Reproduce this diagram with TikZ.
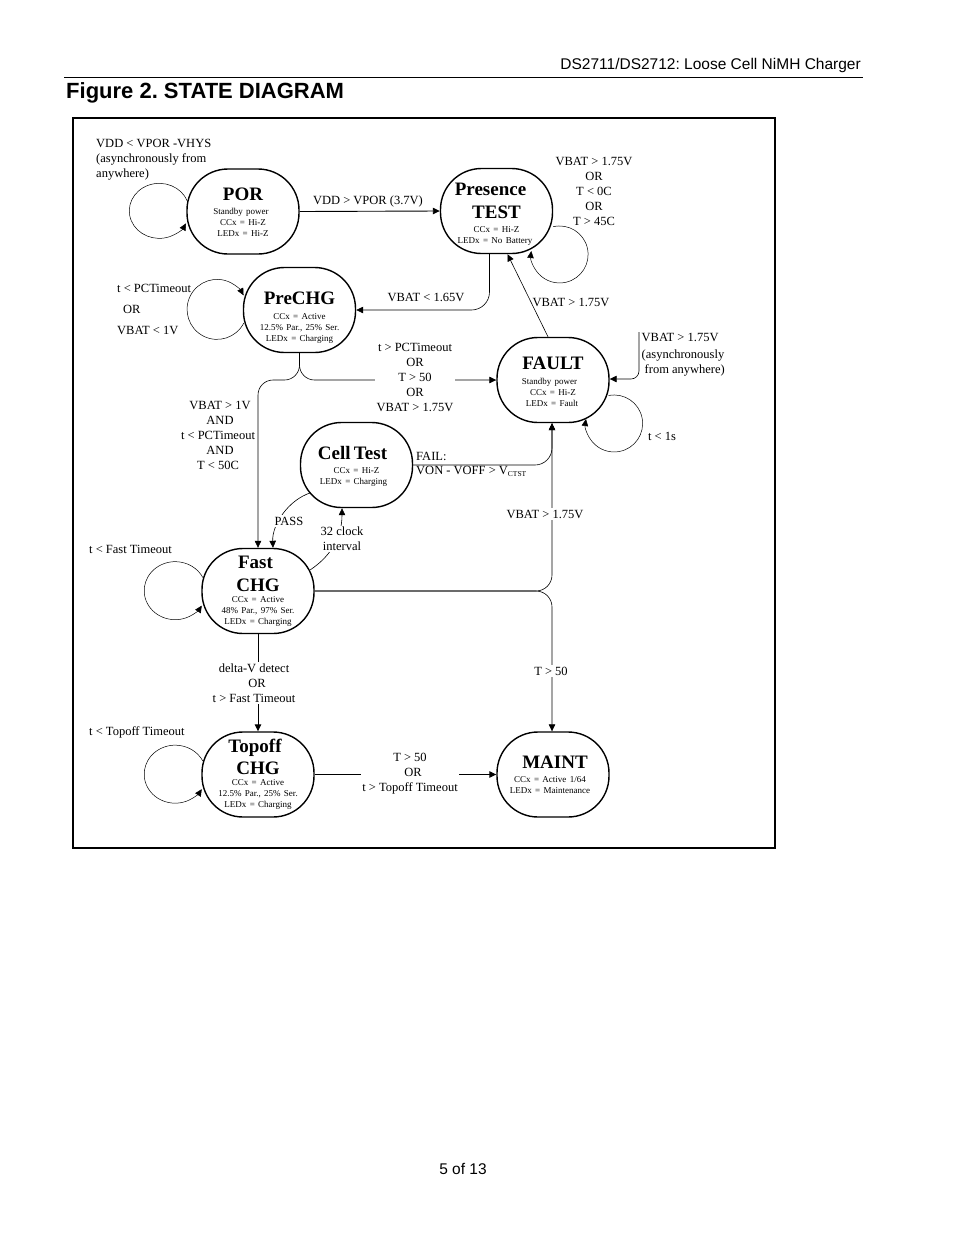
\documentclass[tikz,border=0pt]{standalone}
\usepackage{fontspec}
\setmainfont{Liberation Serif}
\newfontfamily\headfont{Liberation Sans}
\usetikzlibrary{arrows.meta}
\newcommand{\statetext}[4][3.5pt]{{\fontsize{19}{22.5}\selectfont\bfseries\rule{0pt}{\dimexpr 13pt+#2\relax}#3\par}\vspace{#1}{\fontsize{9}{11}\selectfont #4\par}}

\begin{document}
\frenchspacing
\begin{tikzpicture}[x=1pt,y=-1pt,
	>={Triangle[length=7pt,width=6.5pt]},
	statebox/.style={draw,line width=1.4pt,rounded corners=41pt,minimum width=112pt,minimum height=85pt,inner sep=0pt,align=center,text width=110pt},
	link/.style={line width=0.6pt,->},
	mainlink/.style={line width=0.9pt,->},
	selfloop/.style={line width=0.5pt,->},
	cond/.style={font=\fontsize{12.5}{15}\selectfont,align=center,inner sep=1.5pt},
	gap/.style={cond,fill=white}]
\useasboundingbox (0,0) rectangle (954,1235);

% page furniture
\node[anchor=east,inner sep=0pt,font=\headfont\fontsize{15.5}{18}\selectfont] (header) at (861,65) {DS2711/DS2712: Loose Cell NiMH Charger};
\coordinate (ruleleft) at (64,77);
\coordinate (ruleright) at (863,77);
\draw[line width=1pt] (ruleleft)--(ruleright);
\node[anchor=west,inner sep=0pt,font=\headfont\bfseries\fontsize{22}{26}\selectfont] (figtitle) at (66,92.5) {Figure 2. STATE DIAGRAM};
\node[inner sep=0pt,font=\headfont\fontsize{15.5}{18}\selectfont] (pagenum) at (463,1169) {5 of 13};
\draw[line width=1.5pt] (73,118) rectangle (775,848);

% states
\node[statebox] (por) at (243,211.5) {\statetext{1pt}{POR}{\hspace*{-4pt}Standby power\\CCx = Hi-Z\\LEDx = Hi-Z}};
\node[statebox] (presence) at (496.5,211) {\statetext{6pt}{\hspace*{-12pt}Presence\\TEST}{CCx = Hi-Z\\\hspace*{-3pt}LEDx = No Battery}};
\node[statebox] (prechg) at (299.5,310) {\statetext{15pt}{PreCHG}{CCx = Active\\12.5\% Par., 25\% Ser.\\LEDx = Charging}};
\node[statebox] (fault) at (553,380) {\statetext{3pt}{FAULT}{\hspace*{-7pt}Standby power\\CCx = Hi-Z\\\hspace*{-2pt}LEDx = Fault}};
\node[statebox] (celltest) at (356.5,465) {\statetext{3pt}{\hspace*{-8pt}Cell Test}{CCx = Hi-Z\\\hspace*{-6pt}LEDx = Charging}};
\node[statebox] (fast) at (258,591) {\statetext[0pt]{0pt}{\hspace*{-5pt}Fast\\CHG}{CCx = Active\\48\% Par., 97\% Ser.\\LEDx = Charging}};
\node[statebox] (topoff) at (258,774.5) {\statetext[0pt]{0pt}{\hspace*{-6pt}Topoff\\CHG}{CCx = Active\\12.5\% Par., 25\% Ser.\\LEDx = Charging}};
\node[statebox] (maint) at (553,774.5) {\statetext{0pt}{\hspace*{4pt}MAINT}{\hspace*{-6pt}CCx = Active 1/64\\\hspace*{-6pt}LEDx = Maintenance}};

% transitions
\draw[mainlink] (por.east)--(presence.west);
\draw[link,rounded corners=18pt] ([xshift=-7pt]presence.south) |- (prechg.east);
\draw[link] ([xshift=-5pt]fault.north) -- ([xshift=11pt]presence.south);
\draw[link,rounded corners=15pt] (prechg.south) |- (258,380) -- (fast.north);
\draw[link,rounded corners=15pt] (prechg.south) |- (fault.west);
\draw[link,rounded corners=17pt] (celltest.east) -| ([xshift=-1pt]fault.south);
\draw[link,rounded corners=16pt] (fast.east) -| ([xshift=-1pt]fault.south);
\draw[link,rounded corners=16pt] (fast.east) -| ([xshift=-1pt]maint.north);
\draw[mainlink] (fast.south)--(topoff.north);
\draw[mainlink] (topoff.east)--(maint.west);
\draw[link] ([shift={(11,-15.5)}]celltest.south west) .. controls (288,500) and (272,525) .. ([xshift=15pt]fast.north);
\draw[link] ([shift={(109,22)}]fast.north west) .. controls (328,558) and (342,540) .. ([xshift=-14.5pt]celltest.south);
\coordinate (faultfree) at (639,332);
\draw[link,rounded corners=8pt] (faultfree) |- ([yshift=1pt]fault.east);

% self loops
\draw[selfloop] ([shift={(1,-10.5)}]por.west) arc[start angle=-21,end angle=-333,x radius=30,y radius=27.5];
\draw[selfloop] ([shift={(1,13)}]prechg.west) arc[start angle=27,end angle=332,radius=30];
\draw[selfloop] ([shift={(0,-27.5)}]presence.south east) arc[start angle=-103,end angle=187,radius=28.5];
\draw[selfloop] ([shift={(-1,15.5)}]fault.east) arc[start angle=-101,end angle=189,radius=28.5];
\draw[selfloop] ([shift={(1.5,-13.5)}]fast.west) arc[start angle=-27,end angle=-329,x radius=31,y radius=29];
\draw[selfloop] ([shift={(1.5,-13.5)}]topoff.west) arc[start angle=-27,end angle=-329,x radius=31,y radius=29];

% conditions
\node[cond,anchor=west,align=left] (pordown) at (94.5,160) {VDD < VPOR -VHYS\\(asynchronously from\\anywhere)};
\node[cond] (portest) at (368,201) {VDD > VPOR (3.7V)};
\node[cond] (presloop) at (594,191) {VBAT > 1.75V\\OR\\T < 0C\\OR\\T > 45C};
\node[cond,anchor=west,align=left,font=\fontsize{12.5}{21}\selectfont] (preloop) at (115.5,309) {t < PCTimeout\\\hspace*{6pt}OR\\VBAT < 1V};
\node[cond] (prestart) at (426,297) {VBAT < 1.65V};
\node[cond] (faultpres) at (571,302) {VBAT > 1.75V};
\node[gap] (prefault) at (415,377) {t > PCTimeout\\OR\\T > 50\\OR\\VBAT > 1.75V};
\node[cond,align=left,anchor=north west] (faultany) at (640,331.5) {VBAT > 1.75V\\[2pt](asynchronously\\\hspace*{3pt}from anywhere)};
\node[cond] (faultloop) at (662,436) {t < 1s};
\node[cond] (prefast) at (218,435) {\hspace*{4pt}VBAT > 1V\\\hspace*{4pt}AND\\t < PCTimeout\\\hspace*{4pt}AND\\T < 50C};
\node[cond,anchor=west,inner sep=0pt] (failtop) at (416,456.5) {FAIL:};
\node[cond,anchor=west,inner sep=0pt] (failbot) at (416,471) {VON - VOFF > V\raisebox{-2pt}{\fontsize{7.5}{8}\selectfont CTST}};
\node[gap] (pass) at (289,521) {PASS};
\node[gap] (clock) at (342,539) {32 clock\\interval};
\node[gap] (fastfault) at (545,514) {VBAT > 1.75V};
\node[cond,anchor=west] (fastloop) at (87.5,549) {t < Fast Timeout};
\node[gap] (fastmaint) at (551,671) {T > 50};
\node[gap] (fasttop) at (254,683) {delta-V detect\\\hspace*{6pt}OR\\t > Fast Timeout};
\node[cond,anchor=west] (toploop) at (87.5,732) {t < Topoff Timeout};
\node[gap] (topmaint) at (410,774) {T > 50\\\hspace*{6pt}OR\\t > Topoff Timeout};
\end{tikzpicture}
\end{document}
